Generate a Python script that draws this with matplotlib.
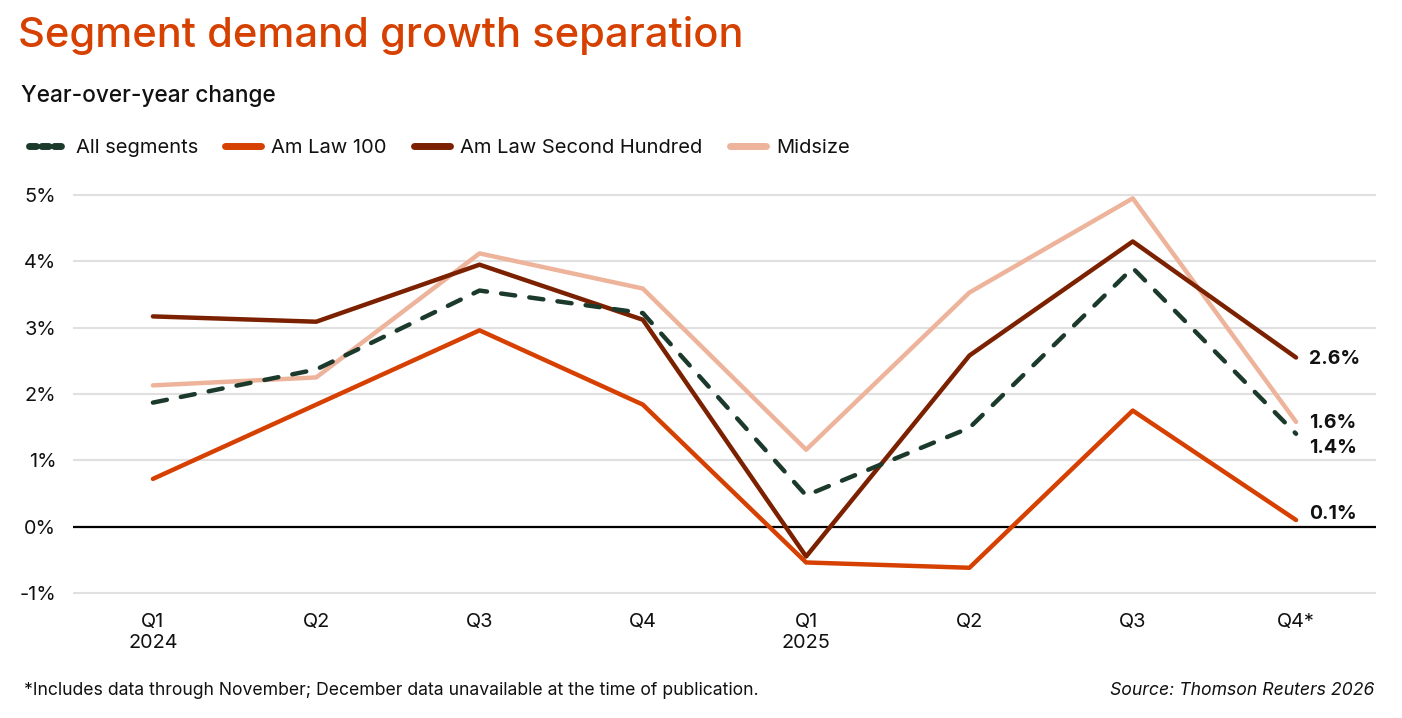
import matplotlib
matplotlib.use("Agg")
import matplotlib.pyplot as plt
from matplotlib.lines import Line2D

plt.rcParams['font.family'] = ['Inter', 'DejaVu Sans']

quarters = ['Q1\n2024', 'Q2', 'Q3', 'Q4', 'Q1\n2025', 'Q2', 'Q3', 'Q4*']
all_segments = [1.87, 2.37, 3.56, 3.22, 0.47, 1.49, 3.90, 1.4]
amlaw_100 = [0.72, 1.84, 2.96, 1.84, -0.54, -0.62, 1.75, 0.1]
amlaw_200 = [3.17, 3.09, 3.95, 3.12, -0.45, 2.58, 4.30, 2.55]
midsize = [2.13, 2.25, 4.12, 3.59, 1.16, 3.53, 4.95, 1.58]
end_labels = ['2.6%', '1.6%', '1.4%', '0.1%']
y_ticks = [-1, 0, 1, 2, 3, 4, 5]

C_ALL = '#1C3A2B'
C_100 = '#D64000'
C_200 = '#7B2100'
C_MID = '#EDB39B'
TEXT = '#111111'

fig = plt.figure(figsize=(14.02, 7.18), dpi=100)
ax = fig.add_axes([0.052, 0.1649, 0.9295, 0.5727])

x = list(range(len(quarters)))
lw = 3.2
ax.plot(x, midsize, color=C_MID, lw=lw, solid_capstyle='round', zorder=3)
ax.plot(x, amlaw_200, color=C_200, lw=lw, solid_capstyle='round', zorder=4)
ax.plot(x, amlaw_100, color=C_100, lw=lw, solid_capstyle='round', zorder=5)
ax.plot(x, all_segments, color=C_ALL, lw=lw, linestyle=(0, (3.2, 3.2)),
        dash_capstyle='round', zorder=6)

# end labels, nudged so they don't collide
label_y = [amlaw_200[-1] - 0.02, midsize[-1] - 0.01,
           all_segments[-1] - 0.22, amlaw_100[-1] + 0.09]
for txt, ypos in zip(end_labels, label_y):
    ax.text(x[-1] + 0.08, ypos, txt, fontsize=14, fontweight='bold',
            color=TEXT, va='center', ha='left')

ax.set_xlim(-0.49, 7.49)
ax.set_ylim(-1.1, 5.1)
ax.set_yticks(y_ticks)
ax.set_yticklabels([f'{t}%' for t in y_ticks])
ax.set_xticks(x)
ax.set_xticklabels(quarters)
ax.yaxis.grid(True, color='#E0E0E0', lw=1.5)
ax.set_axisbelow(True)
ax.axhline(0, color='black', lw=1.6, zorder=2)
for s in ax.spines.values():
    s.set_visible(False)
ax.tick_params(axis='both', length=0, labelsize=14.3, colors=TEXT)
ax.tick_params(axis='y', pad=12)
ax.tick_params(axis='x', pad=10)
for lab in ax.get_yticklabels():
    lab.set_horizontalalignment('right')

fig.text(0.013, 0.950, 'Segment demand growth separation', fontsize=30,
         color='#D64000', va='center', ha='left', fontweight='medium')
fig.text(0.015, 0.866, 'Year-over-year change', fontsize=16.3,
         color=TEXT, va='center', ha='left', fontweight='medium')

handles = [
    Line2D([], [], color=C_ALL, lw=5, linestyle=(0, (1.0, 0.8)), dash_capstyle='round'),
    Line2D([], [], color=C_100, lw=5, solid_capstyle='round'),
    Line2D([], [], color=C_200, lw=5, solid_capstyle='round'),
    Line2D([], [], color=C_MID, lw=5, solid_capstyle='round'),
]
labels = ['All segments', 'Am Law 100', 'Am Law Second Hundred', 'Midsize']
fig.legend(handles, labels, loc='center left', bbox_to_anchor=(0.008, 0.794),
           ncol=4, frameon=False, fontsize=14.5, handlelength=1.8,
           handletextpad=0.5, columnspacing=1.35, labelcolor=TEXT)

fig.text(0.017, 0.038, '*Includes data through November; December data unavailable at the time of publication.',
         fontsize=12.7, color=TEXT, va='center', ha='left')
fig.text(0.98, 0.038, 'Source: Thomson Reuters 2026', fontsize=12.7, color=TEXT,
         va='center', ha='right', style='italic')

fig.savefig('out.png', dpi=100)
